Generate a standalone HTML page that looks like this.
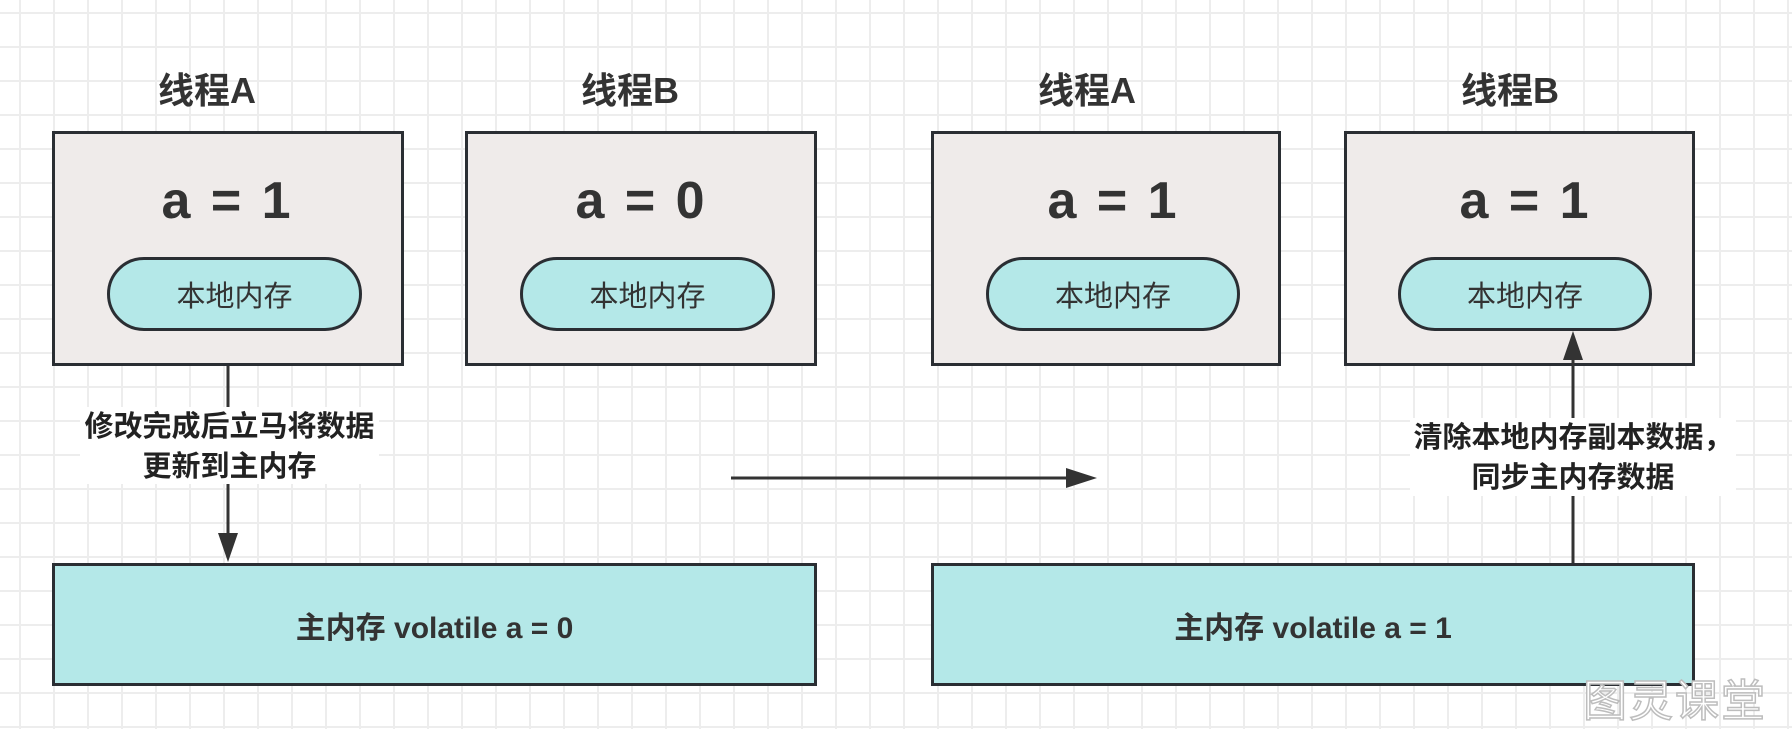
<!DOCTYPE html>
<html><head><meta charset="utf-8"><style>
html,body{margin:0;padding:0}
body{width:1792px;height:724px;position:relative;overflow:hidden;background-color:#fff;
background-image:linear-gradient(#ededed 2px,transparent 2px),linear-gradient(90deg,#ededed 2px,transparent 2px);
background-size:34px 34px;background-position:19px 12px;
font-family:"Liberation Sans","Noto Sans CJK SC",sans-serif;color:#333}
.t{position:absolute;font-weight:bold;text-align:center;transform:translate(-50%,-50%);white-space:nowrap}
.box{position:absolute;box-sizing:border-box;border:3px solid #2a2e33;background:#efebea}
.pill{position:absolute;box-sizing:border-box;border:3px solid #2a2e33;background:#b4e8e8;border-radius:38px;display:flex;align-items:center;justify-content:center;font-size:29px;color:#333}
.main{position:absolute;box-sizing:border-box;border:3px solid #2a2e33;background:#b4e8e8;display:flex;align-items:center;justify-content:center;font-size:30px;font-weight:bold;color:#333}
.lbl{position:absolute;background:#fff;font-weight:bold;font-size:29px;line-height:40px;text-align:center;color:#222;white-space:nowrap}
.big{font-size:52px;word-spacing:6px}
</style></head><body>
<div class="t" style="left:207px;top:88px;font-size:36px">线程A</div>
<div class="t" style="left:630px;top:88px;font-size:36px">线程B</div>
<div class="t" style="left:1087px;top:88px;font-size:36px">线程A</div>
<div class="t" style="left:1510px;top:88px;font-size:36px">线程B</div>

<div class="box" style="left:52px;top:131px;width:352px;height:235px"></div>
<div class="box" style="left:465px;top:131px;width:352px;height:235px"></div>
<div class="box" style="left:931px;top:131px;width:350px;height:235px"></div>
<div class="box" style="left:1344px;top:131px;width:351px;height:235px"></div>

<div class="t big" style="left:226px;top:201px">a = 1</div>
<div class="t big" style="left:640px;top:201px">a = 0</div>
<div class="t big" style="left:1112px;top:201px">a = 1</div>
<div class="t big" style="left:1524px;top:201px">a = 1</div>

<div class="pill" style="left:107px;top:257px;width:255px;height:74px">本地内存</div>
<div class="pill" style="left:520px;top:257px;width:255px;height:74px">本地内存</div>
<div class="pill" style="left:986px;top:257px;width:254px;height:74px">本地内存</div>
<div class="pill" style="left:1398px;top:257px;width:254px;height:74px">本地内存</div>

<div class="main" style="left:52px;top:563px;width:765px;height:123px">主内存 volatile a = 0</div>
<div class="main" style="left:931px;top:563px;width:764px;height:123px">主内存 volatile a = 1</div>

<svg width="1792" height="724" style="position:absolute;left:0;top:0">
<g stroke="#333" stroke-width="3" fill="#333">
<line x1="228" y1="366" x2="228" y2="535"/>
<polygon points="218,533 238,533 228,562" stroke="none"/>
<line x1="731" y1="478" x2="1068" y2="478"/>
<polygon points="1066,468 1066,488 1097,478" stroke="none"/>
<line x1="1573" y1="563" x2="1573" y2="358"/>
<polygon points="1563,360 1583,360 1573,331" stroke="none"/>
</g></svg>

<div class="lbl" style="left:80px;top:407px;width:299px;height:77px">修改完成后立马将数据<br>更新到主内存</div>
<div class="lbl" style="left:1410px;top:418px;width:326px;height:78px">清除本地内存副本数据，<br>同步主内存数据</div>

<div style="position:absolute;left:1583px;top:665px;font-size:44px;color:#fff;-webkit-text-stroke:1.5px #bdbdbd;letter-spacing:2px;font-family:'Noto Sans CJK SC',sans-serif">图灵课堂</div>
</body></html>
